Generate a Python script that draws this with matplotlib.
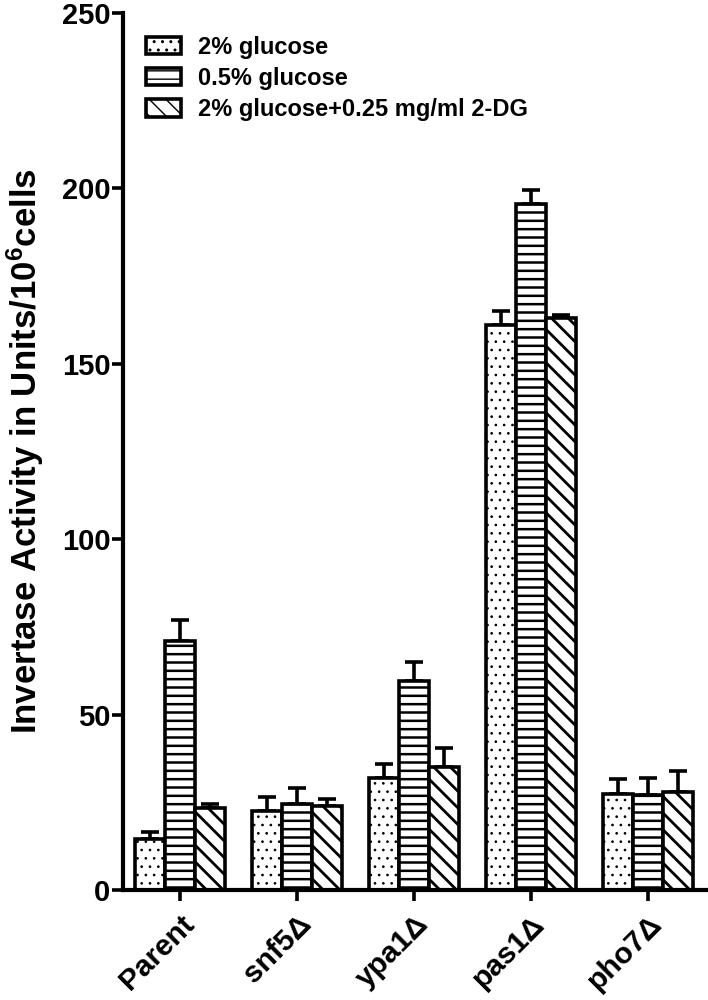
import numpy as np
import matplotlib
matplotlib.use("Agg")
import matplotlib.pyplot as plt

plt.rcParams['font.family'] = ['Liberation Sans', 'DejaVu Sans']
plt.rcParams['font.weight'] = 'bold'
plt.rcParams['mathtext.fontset'] = 'custom'
plt.rcParams['mathtext.rm'] = 'Liberation Sans:bold'
plt.rcParams['mathtext.bf'] = 'Liberation Sans:bold'
plt.rcParams['mathtext.default'] = 'bf'

# data
strains = ["Parent", "snf5\u0394", "ypa1\u0394", "pas1\u0394", "pho7\u0394"]
series = ["2% glucose", "0.5% glucose", "2% glucose+0.25 mg/ml 2-DG"]
glc_2 = [14.5, 22.5, 32.0, 161.0, 27.5]
glc_05 = [71.0, 24.5, 59.5, 195.5, 27.0]
glc_2dg = [23.5, 24.0, 35.0, 163.0, 28.0]
err_2 = [2.0, 4.0, 4.0, 4.0, 4.0]
err_05 = [6.0, 4.5, 5.5, 4.0, 5.0]
err_2dg = [1.0, 2.0, 5.5, 1.0, 6.0]

hatches = ["..", "--", "\\\\"]
hatch_lw = [0.7, 1.8, 2.0]


def make_axes():
    fig = plt.figure(figsize=(7.08, 10), dpi=100)
    ax = fig.add_axes([0.1737, 0.110, 0.8263, 0.877])
    return fig, ax


fig, ax = make_axes()

x = np.arange(len(strains))
width = 0.256
values = [glc_2, glc_05, glc_2dg]
errors = [err_2, err_05, err_2dg]

for i, (vals, errs, h, name) in enumerate(zip(values, errors, hatches, series)):
    pos = x + (i - 1) * width
    with plt.rc_context({'hatch.linewidth': hatch_lw[i]}):
        ax.bar(pos, vals, width, color="white", edgecolor="black", linewidth=2.6,
               hatch=h, label=name, zorder=2)
    ax.errorbar(pos, vals, yerr=[np.zeros(len(vals)), errs], fmt="none",
                ecolor="black", elinewidth=2.6, capsize=6.5, capthick=2.6, zorder=1)

ax.set_xlim(-0.487, 4.513)
ax.set_ylim(0, 250)
ax.set_yticks([0, 50, 100, 150, 200, 250])
ax.set_xticks(x)
ax.set_xticklabels(strains, rotation=45, ha="right", va="top",
                   rotation_mode="anchor", fontsize=21.5)

ax.tick_params(axis="y", labelsize=21, pad=1)
ax.tick_params(axis="both", width=2.6, length=8, direction="out")
ax.tick_params(axis="x", pad=6)
for side in ["top", "right"]:
    ax.spines[side].set_visible(False)
for side in ["left", "bottom"]:
    ax.spines[side].set_linewidth(3)

ax.set_ylabel("Invertase Activity in Units/10$^{6}$cells", fontsize=25,
              fontweight="bold")
ax.yaxis.set_label_coords(-0.132, 0.5)

leg = ax.legend(loc="upper left", bbox_to_anchor=(0.023, 0.985), frameon=False,
                fontsize=17, handlelength=1.5, handleheight=0.75,
                handletextpad=0.7, labelspacing=0.35, borderaxespad=0)

fig.savefig("out.png", dpi=100)
plt.close(fig)
